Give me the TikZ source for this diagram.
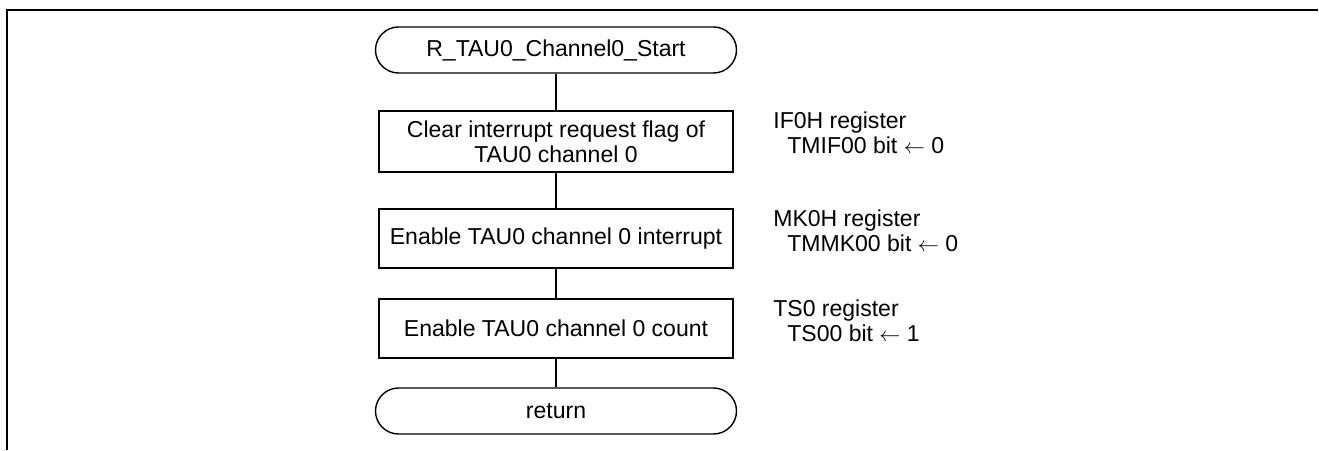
\documentclass[tikz,border=0pt]{standalone}
\usepackage{fontspec}
\setmainfont{Liberation Sans}
\usepackage{tikz}

\tikzset{
  term/.style={draw, line width=0.8pt, rounded corners=0.46cm, minimum width=7.22cm, minimum height=0.92cm, inner sep=0pt},
  proc/.style={draw, line width=0.8pt, minimum width=7.08cm, minimum height=1.2cm, align=center, inner sep=0pt},
  note/.style={anchor=west, align=left, inner sep=0pt},
  link/.style={line width=0.8pt}
}

\begin{document}
\begin{tikzpicture}[font=\fontsize{13.1pt}{14.2pt}\selectfont]

\useasboundingbox (0,0) rectangle (26.38,9);

% Cadre
\draw[line width=1.1pt] (0.14,0) -- (0.14,8.8) -- (26.36,8.8);

% Debut et fin
\node[term] (start) at (11.12, 8.0) {R\_TAU0\_Channel0\_Start};
\node[term] (ret) at (11.12, 0.78) {return};

% Traitements
\node[proc, minimum height=1.22cm] (clr) at (11.12, 6.17) {Clear interrupt request flag of\\TAU0 channel 0};
\node[proc, minimum height=1.18cm] (enint) at (11.12, 4.23) {Enable TAU0 channel 0 interrupt};
\node[proc, minimum height=1.18cm] (encnt) at (11.12, 2.43) {Enable TAU0 channel 0 count};

% Liaisons
\draw[link] (start) -- (clr);
\draw[link] (clr) -- (enint);
\draw[link] (enint) -- (encnt);
\draw[link] (encnt) -- (ret);

% Registres
\node[note] (regif) at (15.46, 6.35) {IF0H register\\\hspace{0.28cm}TMIF00 bit $\leftarrow$ 0};
\node[note] (regmk) at (15.46, 4.39) {MK0H register\\\hspace{0.28cm}TMMK00 bit $\leftarrow$ 0};
\node[note] (regts) at (15.46, 2.59) {TS0 register\\\hspace{0.28cm}TS00 bit $\leftarrow$ 1};

\end{tikzpicture}
\end{document}
